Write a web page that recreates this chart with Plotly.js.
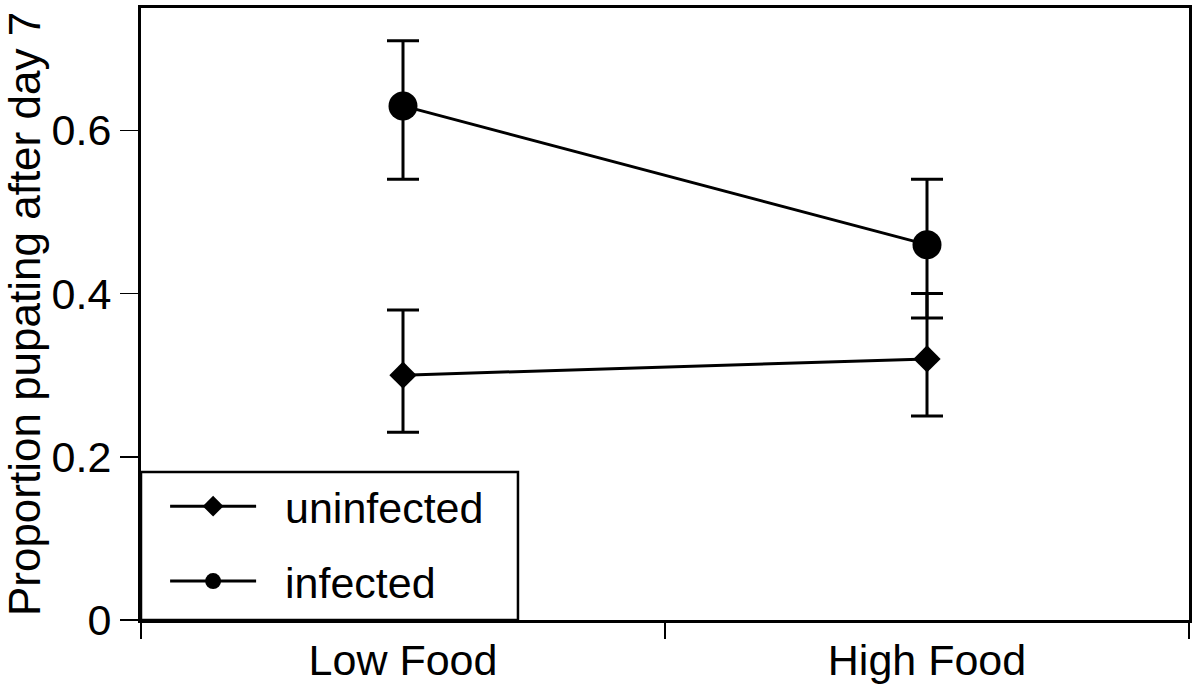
<!DOCTYPE html>
<html>
<head>
<meta charset="utf-8">
<script src="https://cdn.plot.ly/plotly-3.0.1.min.js"></script>
<style>html,body{margin:0;padding:0;background:#fff;}#chart{width:1200px;height:694px;}</style>
</head>
<body>
<div id="chart"></div>
<script>
const categories = ["Low Food", "High Food"];
const uninfected = [0.30, 0.32];
const uninfectedUpper = [0.38, 0.40];
const uninfectedLower = [0.23, 0.25];
const infected = [0.63, 0.46];
const infectedUpper = [0.71, 0.54];
const infectedLower = [0.54, 0.37];
const yTicks = [0, 0.2, 0.4, 0.6];
const yTickLabels = ["0", "0.2", "0.4", "0.6"];
const seriesNames = ["uninfected", "infected"];

const font = "Liberation Sans, Arial, Helvetica, sans-serif";
const NB = "\u00a0\u00a0";

function errs(mid, up, lo) {
  return {
    type: "data", symmetric: false,
    array: mid.map((v, i) => up[i] - v),
    arrayminus: mid.map((v, i) => v - lo[i]),
    color: "#000", thickness: 3, width: 16
  };
}

const traces = [
  {
    x: categories, y: uninfected, name: NB + seriesNames[0], type: "scatter", mode: "lines+markers",
    line: {color: "#000", width: 3},
    marker: {symbol: "diamond", size: 21, color: "#000"},
    error_y: errs(uninfected, uninfectedUpper, uninfectedLower),
    legendgroup: "a"
  },
  {
    x: categories, y: infected, name: NB + seriesNames[1], type: "scatter", mode: "lines+markers",
    line: {color: "#000", width: 3},
    marker: {symbol: "circle", size: 29, color: "#000"},
    error_y: errs(infected, infectedUpper, infectedLower),
    legendgroup: "b"
  }
];

const layout = {
  width: 1200, height: 694,
  margin: {l: 141, r: 11, t: 8, b: 74},
  paper_bgcolor: "#fff", plot_bgcolor: "#fff",
  font: {family: font, size: 43, color: "#000"},
  showlegend: true,
  legend: {
    x: 0.023, y: 0.007, xanchor: "left", yanchor: "bottom",
    bgcolor: "rgba(0,0,0,0)", borderwidth: 0,
    font: {family: font, size: 43, color: "#000"},
    itemwidth: 86, tracegroupgap: 16, traceorder: "grouped", itemsizing: "trace"
  },
  shapes: [{
    type: "rect", xref: "paper", yref: "paper",
    x0: 0, x1: 0.3597, y0: 0, y1: 0.2418,
    line: {color: "#000", width: 2.5}, fillcolor: "#fff", layer: "above"
  }],
  xaxis: {
    type: "category", range: [-0.5, 1.5], tickson: "boundaries",
    ticks: "outside", ticklen: 16, tickwidth: 1.5, tickcolor: "#000",
    showline: true, linecolor: "#000", linewidth: 3, mirror: true,
    showgrid: false, zeroline: false,
    tickfont: {family: font, size: 43, color: "#000"}
  },
  yaxis: {
    range: [0, 0.75], tickvals: yTicks, ticktext: yTickLabels,
    ticks: "outside", ticklen: 18, tickwidth: 1.5, tickcolor: "#000",
    showline: true, linecolor: "#000", linewidth: 3, mirror: true,
    showgrid: false, zeroline: false,
    tickfont: {family: font, size: 43, color: "#000"},
    title: {text: "Proportion pupating after day 7", font: {family: font, size: 44, color: "#000"}, standoff: 6}
  }
};

Plotly.newPlot("chart", traces, layout, {displayModeBar: false, staticPlot: true});
</script>
</body>
</html>
